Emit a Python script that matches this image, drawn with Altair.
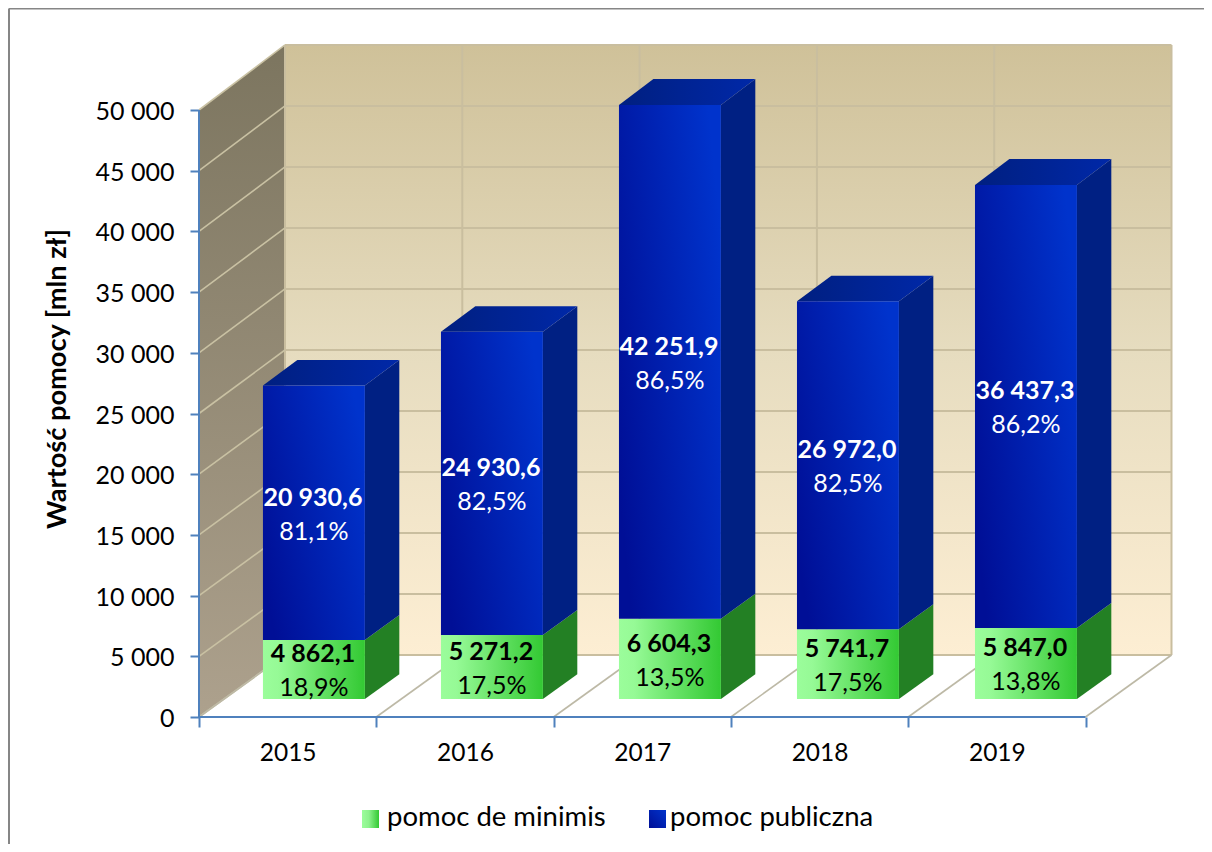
import altair as alt
import pandas as pd

years = ["2015", "2016", "2017", "2018", "2019"]
minimis = [4862.1, 5271.2, 6604.3, 5741.7, 5847.0]
publiczna = [20930.6, 24930.6, 42251.9, 26972.0, 36437.3]
minimis_pct = ["18,9%", "17,5%", "13,5%", "17,5%", "13,8%"]
publiczna_pct = ["81,1%", "82,5%", "86,5%", "82,5%", "86,2%"]
y_ticks = list(range(0, 50001, 5000))
legend_labels = ["pomoc de minimis", "pomoc publiczna"]

FONT = "Lato"
FS = 25
STEP = 177.3          # px per category
UNIT = 607 / 50000    # px per value unit
W, H = 975, 677       # plot area
DX_T = 86 / STEP      # depth shift, category units
DY_T = 62 / UNIT      # depth shift, value units
T_F, T_B = 0.29, 0.69 # front and back of the bars
BAR_OFF, BAR_W = 0.22, 0.575

n = len(years)
TOP = 50000
x_right = float(n)

xs = alt.Scale(domain=[0, W / STEP], nice=False, zero=False)
ys = alt.Scale(domain=[0, H / UNIT], nice=False, zero=False)

X_AX = alt.Axis(
    values=[i / 2 for i in range(2 * n + 1)],
    domain=False, grid=False, title=None,
    tickColor="#4f81bd", tickWidth=2, tickSize=10,
    tickOpacity={"condition": {"test": "datum.value % 1 == 0", "value": 1}, "value": 0},
    labelExpr="datum.value % 1 == 0 ? '' : " + repr(years) + "[floor(datum.value)]",
    labelFont=FONT, labelFontSize=24.5, labelColor="#000000",
    labelPadding=14, labelOverlap=False, labelBound=False, labelFlush=False)
Y_AX = alt.Axis(
    values=y_ticks, domain=False, grid=False,
    title="Wartość pomocy [mln zł]", titleFont=FONT, titleFontSize=27.2,
    titleFontWeight="bold", titleColor="#000000", titlePadding=24,
    tickColor="#4f81bd", tickWidth=2, tickSize=9,
    labelExpr="replace(format(datum.value, ','), /,/g, ' ')",
    labelFont=FONT, labelFontSize=FS, labelColor="#000000", labelOffset=1.5,
    labelPadding=16, labelOverlap=False, labelBound=False, labelFlush=False)


def X(c, t=0.0):
    return c + t * DX_T


def Y(v, t=0.0):
    return v * (1 + 0.005 * t) + t * DY_T


def num(v):
    return f"{v:,.1f}".replace(",", " ").replace(".", ",")


def qx(f="x"):
    return alt.X(f, type="quantitative", scale=xs, axis=X_AX)


def qy(f="y"):
    return alt.Y(f, type="quantitative", scale=ys, axis=Y_AX, stack=None)


def grad(stops, x1=0, y1=0, x2=1, y2=0):
    return {"gradient": "linear", "x1": x1, "y1": y1, "x2": x2, "y2": y2,
            "stops": [{"offset": o, "color": c} for o, c in stops]}


def poly(rows, **mark):
    return alt.Chart(pd.DataFrame(rows)).mark_area(orient="vertical", stroke=None, **mark).encode(
        x=qx(), y=qy(), y2="y2:Q", detail="g:N")


def rules(rows, color, width):
    return alt.Chart(pd.DataFrame(rows)).mark_rule(color=color, strokeWidth=width).encode(
        x=qx(), y=qy(), x2="x2:Q", y2="y2:Q")


# ---- walls and floor ----
back_wall = alt.Chart(pd.DataFrame([{
    "x": X(0, 1), "x2": X(x_right, 1), "y": Y(0, 1), "y2": Y(TOP, 1)}])).mark_rect(
    color=grad([(0, "#cfc199"), (0.5, "#e6dcbf"), (1, "#fdeed3")], x2=0, y2=1)).encode(
    x=qx(), x2="x2:Q", y=qy(), y2="y2:Q")

side_wall = poly([
    {"g": 0, "x": X(0, 0), "y": Y(0, 0), "y2": Y(TOP, 0)},
    {"g": 0, "x": X(0, 1), "y": Y(0, 1), "y2": Y(TOP, 1)},
], color=grad([(0, "#7c755f"), (1, "#ada18d")], x2=0, y2=1))

floor_rows = [
    {"g": 0, "x": X(0, 0), "y": Y(0, 0), "y2": Y(0, 0)},
    {"g": 0, "x": X(0, 1), "y": Y(0, 0), "y2": Y(0, 1)},
    {"g": 0, "x": X(x_right, 0), "y": Y(0, 0), "y2": Y(0, 1)},
    {"g": 0, "x": X(x_right, 1), "y": Y(0, 1), "y2": Y(0, 1)},
]
floor = poly(floor_rows, color="#ffffff")

back_h = [{"x": X(0, 1), "x2": X(x_right, 1), "y": Y(v, 1), "y2": Y(v, 1)} for v in y_ticks]
back_v = [{"x": X(i, 1), "x2": X(i, 1), "y": Y(0, 1), "y2": Y(TOP, 1)} for i in range(n + 1)]
side_g = [{"x": X(0, 0), "x2": X(0, 1), "y": Y(v, 0), "y2": Y(v, 1)} for v in y_ticks]
floor_g = [{"x": X(i, 0), "x2": X(i, 1), "y": Y(0, 0), "y2": Y(0, 1)} for i in range(n + 1)]

grid_back = rules(back_h + back_v, "#c9be9f", 2)
grid_side = rules(side_g, "#c9c1a3", 1.6)
grid_floor = rules(floor_g, "#bdb9a6", 1.6)

axis_y_line = rules([{"x": 0, "x2": 0, "y": 0, "y2": TOP}], "#4f81bd", 2)
axis_x_line = rules([{"x": 0, "x2": x_right, "y": 0, "y2": 0}], "#4f81bd", 2)

# ---- bars ----
front, side, top_rows, labels = {"g": [], "b": []}, {"g": [], "b": []}, [], []
for i in range(n):
    c0 = i * 1.004 + BAR_OFF
    c1 = c0 + BAR_W
    lo_g, hi_g = 0, minimis[i]
    lo_b, hi_b = minimis[i], minimis[i] + publiczna[i]
    for key, lo, hi in (("g", lo_g, hi_g), ("b", lo_b, hi_b)):
        front[key].append({"x": X(c0, T_F), "x2": X(c1, T_F), "y": Y(lo, T_F), "y2": Y(hi, T_F)})
        side[key].append({"g": i, "x": X(c1, T_F), "y": Y(lo, T_F), "y2": Y(hi, T_F)})
        side[key].append({"g": i, "x": X(c1, T_B), "y": Y(lo, T_B), "y2": Y(hi, T_B)})
    yf, yb = Y(hi_b, T_F), Y(hi_b, T_B)
    top_rows += [
        {"g": i, "x": X(c0, T_F), "y": yf, "y2": yf},
        {"g": i, "x": X(c0, T_B), "y": yf, "y2": yb},
        {"g": i, "x": X(c1, T_F), "y": yf, "y2": yb},
        {"g": i, "x": X(c1, T_B), "y": yb, "y2": yb},
    ]
    cx = X((c0 + c1) / 2, T_F)
    labels.append({"x": cx, "y": Y((lo_g + hi_g) / 2, T_F), "v": num(minimis[i]),
                   "p": minimis_pct[i], "col": "#000000"})
    labels.append({"x": cx, "y": Y((lo_b + hi_b) / 2, T_F), "v": num(publiczna[i]),
                   "p": publiczna_pct[i], "col": "#ffffff"})


def rects(rows, color):
    return alt.Chart(pd.DataFrame(rows)).mark_rect(color=color).encode(
        x=qx(), x2="x2:Q", y=qy(), y2="y2:Q")


GREEN = grad([(0, "#9bfd9b"), (0.15, "#96fa96"), (1, "#33c933")])
BLUE = grad([(0, "#000f96"), (1, "#0033cc")], x1=0, y1=0.75, x2=1, y2=0.25)

front_g = rects(front["g"], GREEN)
front_b = rects(front["b"], BLUE)
side_g_f = poly(side["g"], color="#238024")
side_b_f = poly(side["b"], color="#002083")
top_f = poly(top_rows, color=grad([(0, "#001f80"), (1, "#0028a8")]))

lab_df = pd.DataFrame(labels)
lab_val = alt.Chart(lab_df).mark_text(font=FONT, fontSize=FS, fontWeight="bold", dy=-15, dx=-1).encode(
    x=qx(), y=qy(), text="v:N", color=alt.Color("col:N", scale=None, legend=None))
lab_pct = alt.Chart(lab_df).mark_text(font=FONT, fontSize=FS, dy=19).encode(
    x=qx(), y=qy(), text="p:N", color=alt.Color("col:N", scale=None, legend=None))

# ---- frame ----
one = pd.DataFrame({"a": [0]})
frame_top = alt.Chart(one).mark_rule(color="#868686", strokeWidth=2).encode(
    x=alt.value(-190), x2=alt.value(1015), y=alt.value(-31.5))
frame_left = alt.Chart(one).mark_rule(color="#868686", strokeWidth=2).encode(
    x=alt.value(-190), y=alt.value(-31.5), y2=alt.value(820))

# ---- legend ----
BLUE_SW = grad([(0, "#000f96"), (1, "#0033cc")], x1=0, y1=1, x2=1, y2=0)
GREEN_SW = grad([(0, "#9bfd9b"), (0.4, "#8df28d"), (1, "#33c933")])
legend = []
for label, px, tx, fill in zip(legend_labels, [163, 450], [188, 471], [GREEN_SW, BLUE_SW]):
    legend.append(alt.Chart(one).mark_rect(color=fill).encode(
        x=alt.value(px), x2=alt.value(px + 17), y=alt.value(770), y2=alt.value(788)))
    legend.append(alt.Chart(pd.DataFrame({"t": [label]})).mark_text(
        font=FONT, fontSize=27.5, align="left", baseline="middle", color="#000000").encode(
        x=alt.value(tx), y=alt.value(778), text="t:N"))

chart = alt.layer(
    back_wall, side_wall, floor, grid_back, grid_side, grid_floor,
    axis_y_line, axis_x_line,
    side_g_f, side_b_f, top_f, front_g, front_b,
    lab_val, lab_pct, frame_top, frame_left, *legend,
).properties(
    width=W, height=H,
    autosize=alt.AutoSizeParams(type="none"),
    padding={"left": 191, "top": 32, "right": 30, "bottom": 127},
    background="#ffffff",
).configure_view(stroke=None)

chart.save("out.html", embed_options={"renderer": "svg", "actions": False})
